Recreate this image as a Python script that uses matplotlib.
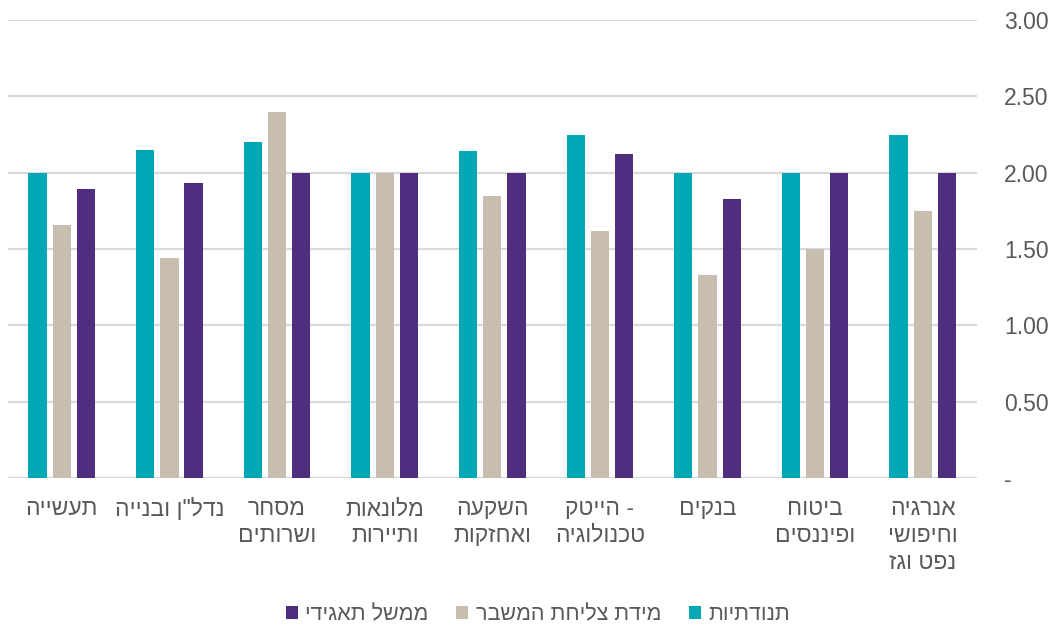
import matplotlib.pyplot as plt
import numpy as np

plt.rcParams['font.family'] = ['Liberation Sans', 'DejaVu Sans']

# categories in logical (reading) order, right-to-left on the chart
categories = [
    ['אנרגיה', 'וחיפושי', 'נפט וגז'],
    ['ביטוח', 'ופיננסים'],
    ['בנקים'],
    ['הייטק -', 'טכנולוגיה'],
    ['השקעה', 'ואחזקות'],
    ['מלונאות', 'ותיירות'],
    ['מסחר', 'ושרותים'],
    ['נדל"ן ובנייה'],
    ['תעשייה'],
]
volatility = [2.25, 2.00, 2.00, 2.25, 2.14, 2.00, 2.20, 2.15, 2.00]
crisis = [1.75, 1.50, 1.33, 1.62, 1.85, 2.00, 2.40, 1.44, 1.66]
governance = [2.00, 2.00, 1.83, 2.12, 2.00, 2.00, 2.00, 1.93, 1.89]
series_names = ['תנודתיות', 'מידת צליחת המשבר', 'ממשל תאגידי']
colors = ['#00A8B5', '#C8BEB0', '#4F2D7F']
yticks = [0, 0.5, 1.0, 1.5, 2.0, 2.5, 3.0]


def visual(s):
    # matplotlib has no bidi support: reverse Hebrew for display
    if s.endswith(' -'):
        return s[:-2][::-1] + ' -'
    return s[::-1]


n = len(categories)
# chart reads right to left: first category on the right
x = np.arange(n)[::-1]

fig = plt.figure(figsize=(10.55, 6.26), dpi=100)
ax = fig.add_axes([0.0076, 0.2364, 0.918, 0.7316])

w = 0.17
off = 0.225
data = [volatility, crisis, governance]
bars = []
for i, (vals, c) in enumerate(zip(data, colors)):
    b = ax.bar(x + (i - 1) * off, vals, width=w, color=c, zorder=3,
               label=visual(series_names[i]))
    bars.append(b)

ax.set_xlim(-0.5, n - 0.5)
ax.set_ylim(0, 3.0)
ax.set_yticks(yticks)
ax.set_yticklabels(['-' if v == 0 else f'{v:.2f}' for v in yticks])
ax.yaxis.tick_right()
ax.tick_params(axis='y', length=0, pad=20, labelsize=16.5, labelcolor='#595959')
ax.grid(axis='y', color='#D9D9D9', linewidth=1.6, zorder=0)
ax.set_xticks(x)
ax.set_xticklabels(['\n'.join(visual(l) for l in c) for c in categories],
                   fontsize=16.5, color='#595959', linespacing=1.2, va='top')
ax.tick_params(axis='x', length=0, pad=14)
for s in ax.spines.values():
    s.set_visible(False)

handles = bars[::-1]
labels = [visual(s) for s in series_names[::-1]]
fig.legend(handles, labels, loc='lower center', bbox_to_anchor=(0.51, -0.03),
           ncol=3, frameon=False, fontsize=15.5, labelcolor='#595959',
           handlelength=0.55, handleheight=0.55, handletextpad=0.35,
           columnspacing=1.3)

fig.savefig('out.png', dpi=100)
